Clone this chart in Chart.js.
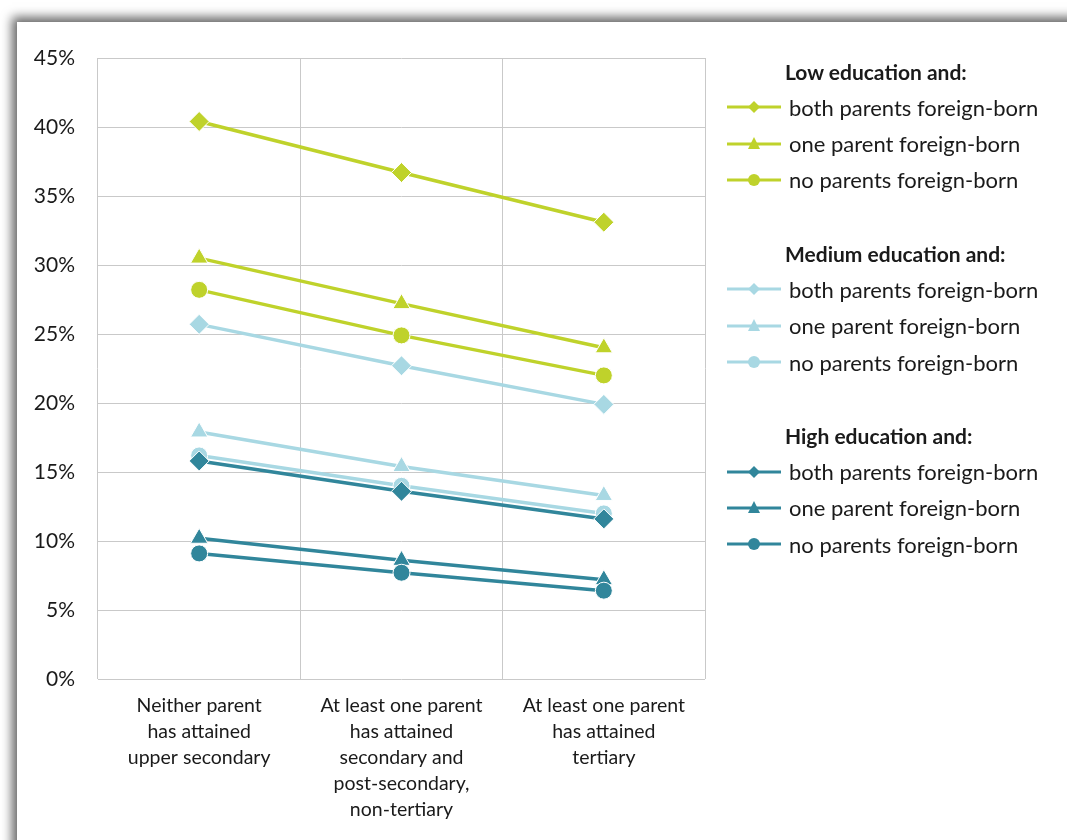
<!DOCTYPE html>
<html>
<head>
<meta charset="utf-8">
<script src="https://cdn.jsdelivr.net/npm/chart.js@4"></script>
<style>
    html, body { margin: 0; padding: 0; background: #fff; overflow: hidden; }
    body { width: 1067px; height: 840px; position: relative; font-family: Lato, sans-serif; }
    #frame {
        position: absolute; left: 17px; top: 22px; width: 1120px; height: 900px;
        background: #fff; box-shadow: 0 0 10px 5px rgba(0, 0, 0, 0.6);
    }
    #chartWrap { position: absolute; left: 0; top: 0; width: 1067px; height: 840px; }
    #legend { position: absolute; left: 727px; top: 55px; color: #1a1a1a; }
    .group-title { font-weight: bold; font-size: 21px; margin-left: 58px; height: 34px; line-height: 34px; }
    .item { height: 36.4px; display: flex; align-items: center; font-size: 22px; }
    .item svg { margin-right: 8px; }
    .gap { height: 39px; }
</style>
</head>
<body>
<div id="frame"></div>
<div id="chartWrap"><canvas id="eduChart" width="1067" height="840"></canvas></div>
<div id="legend"></div>
<script>
// categories (parental education)
const categories = [
    ['Neither parent', 'has attained', 'upper secondary'],
    ['At least one parent', 'has attained', 'secondary and', 'post-secondary,', 'non-tertiary'],
    ['At least one parent', 'has attained', 'tertiary']
];

const groupTitles = ['Low education and:', 'Medium education and:', 'High education and:'];
const seriesNames = ['both parents foreign-born', 'one parent foreign-born', 'no parents foreign-born'];
const groupColors = ['#bfd22b', '#a8d8e3', '#31869b'];
const seriesMarkers = ['rectRot', 'triangle', 'circle'];

// values in %
const lowBoth = [40.4, 36.7, 33.1];
const lowOne = [30.5, 27.2, 24.0];
const lowNo = [28.2, 24.9, 22.0];
const medBoth = [25.7, 22.7, 19.9];
const medOne = [17.9, 15.4, 13.3];
const medNo = [16.2, 14.0, 12.0];
const highBoth = [15.8, 13.6, 11.6];
const highOne = [10.2, 8.6, 7.2];
const highNo = [9.1, 7.7, 6.4];

const seriesValues = [
    [lowBoth, lowOne, lowNo],
    [medBoth, medOne, medNo],
    [highBoth, highOne, highNo]
];

const yTicks = [0, 5, 10, 15, 20, 25, 30, 35, 40, 45];

const markerRadius = { rectRot: 10, triangle: 10, circle: 8.5 };

const datasets = [];
seriesValues.forEach((group, g) => {
    group.forEach((values, s) => {
        datasets.push({
            label: groupTitles[g] + ' ' + seriesNames[s],
            data: values,
            borderColor: groupColors[g],
            backgroundColor: groupColors[g],
            pointBackgroundColor: groupColors[g],
            pointBorderColor: '#ffffff',
            pointBorderWidth: 1,
            pointStyle: seriesMarkers[s],
            pointRadius: markerRadius[seriesMarkers[s]],
            borderWidth: 3.5,
            tension: 0,
            order: 8 - datasets.length
        });
    });
});

const ctx = document.getElementById('eduChart').getContext('2d');
new Chart(ctx, {
    type: 'line',
    data: { labels: categories, datasets: datasets },
    options: {
        responsive: false,
        animation: false,
        layout: { padding: { left: 0, right: 362, top: 58, bottom: 0 } },
        plugins: { legend: { display: false }, tooltip: { enabled: false } },
        scales: {
            x: {
                offset: true,
                grid: { offset: true, color: '#c9c9c9', lineWidth: 1, drawTicks: false },
                border: { display: false },
                ticks: {
                    color: '#1a1a1a',
                    font: { family: 'Lato', size: 19.5, lineHeight: 1.33 },
                    padding: 14,
                    maxRotation: 0,
                    autoSkip: false
                },
                afterFit: (scale) => { scale.height = 161; }
            },
            y: {
                min: 0,
                max: 45,
                afterBuildTicks: (scale) => { scale.ticks = yTicks.map(v => ({ value: v })); },
                grid: { color: '#c9c9c9', lineWidth: 1, drawTicks: false },
                border: { display: false },
                ticks: {
                    color: '#1a1a1a',
                    font: { family: 'Lato', size: 21 },
                    padding: 23,
                    callback: (v) => v + '%'
                },
                afterFit: (scale) => { scale.width = 98; }
            }
        }
    }
});

// grouped legend
function markerSvg(color, style) {
    let mark = '';
    if (style === 'rectRot') mark = `<polygon points="27,5 33,11 27,17 21,11" fill="${color}"/>`;
    if (style === 'triangle') mark = `<polygon points="27,4 33,16 21,16" fill="${color}"/>`;
    if (style === 'circle') mark = `<circle cx="27" cy="11" r="6" fill="${color}"/>`;
    return `<svg width="54" height="22"><line x1="0" y1="11" x2="54" y2="11" stroke="${color}" stroke-width="3"/>${mark}</svg>`;
}

const legendEl = document.getElementById('legend');
let html = '';
groupTitles.forEach((title, g) => {
    if (g > 0) html += '<div class="gap"></div>';
    html += `<div class="group-title">${title}</div>`;
    seriesNames.forEach((name, s) => {
        html += `<div class="item">${markerSvg(groupColors[g], seriesMarkers[s])}<span>${name}</span></div>`;
    });
});
legendEl.innerHTML = html;
</script>
</body>
</html>
